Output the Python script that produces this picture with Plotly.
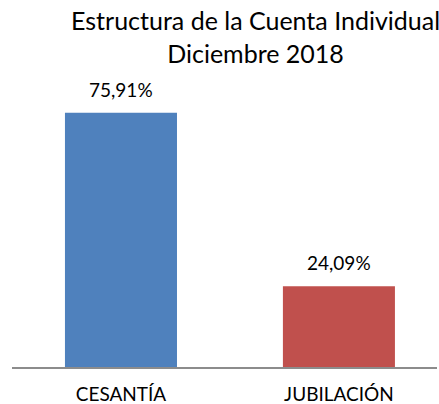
import plotly.graph_objects as go

categorias = ["CESANTÍA", "JUBILACIÓN"]
valores = [75.91, 24.09]
colores = ["#4F81BD", "#C0504D"]
titulo = "Estructura de la Cuenta Individual<br>Diciembre 2018"

etiquetas = [f"{v:.2f}%".replace(".", ",") for v in valores]

fig = go.Figure(go.Bar(
    x=categorias,
    y=valores,
    marker={'color': colores, 'line': {'width': 0}},
    width=0.514,
    hoverinfo="skip"))

for c, v, t in zip(categorias, valores, etiquetas):
    fig.add_annotation(x=c, y=v, text=t, showarrow=False,
                       yanchor="bottom", yshift=10,
                       font={'size': 19, 'color': "#000000"})

# titulo como anotacion, centrado algo a la derecha como en el original
fig.add_annotation(text=titulo, xref="paper", yref="paper",
                   x=(255 - 12) / 425, y=0.988, xanchor="center",
                   yanchor="middle", showarrow=False,
                   font={'size': 25, 'color': "#000000"})

fig.update_layout(
    width=439, height=404,
    margin={'l': 12, 'r': 2, 't': 32, 'b': 37},
    paper_bgcolor="white",
    plot_bgcolor="white",
    showlegend=False,
    font={'family': "Lato", 'color': "#000000", 'size': 19},
    xaxis={'range': [-0.5, 1.45], 'showline': True, 'linecolor': "#8C8C8C",
           'linewidth': 1.5, 'ticks': "", 'showgrid': False,
           'automargin': False,
           'tickfont': {'size': 19}, 'ticklabelstandoff': 9},
    yaxis={'range': [0, 100], 'visible': False, 'showgrid': False})

fig.write_html("out.html", config={'displayModeBar': False},
               post_script="document.body.style.margin='0';")
